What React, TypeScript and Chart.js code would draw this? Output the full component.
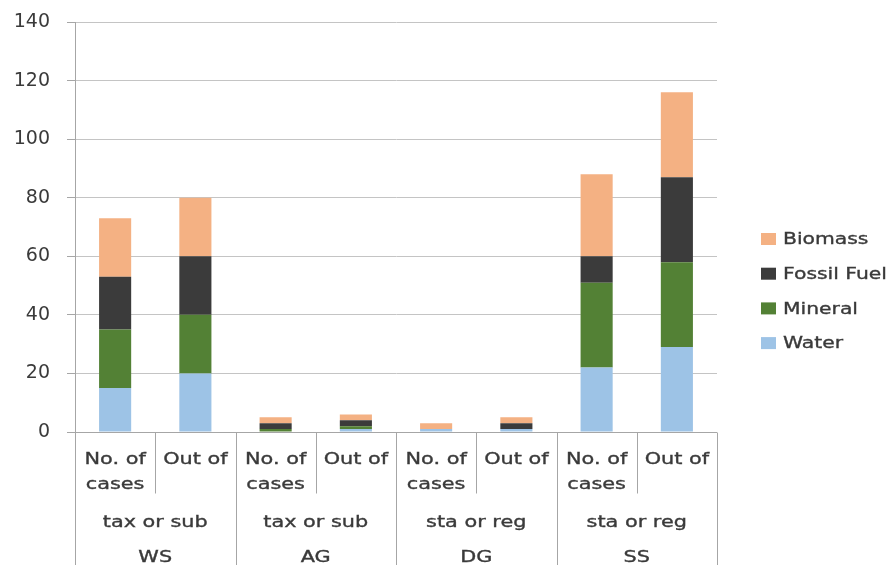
import React, { useEffect, useRef } from "react";
import { Chart, registerables } from "chart.js";

Chart.register(...registerables);

// ---- Data ----
const categories = [
  "WS No. of cases", "WS Out of",
  "AG No. of cases", "AG Out of",
  "DG No. of cases", "DG Out of",
  "SS No. of cases", "SS Out of",
];
const categoryLines: string[][] = [
  ["No. of", "cases"], ["Out of"],
  ["No. of", "cases"], ["Out of"],
  ["No. of", "cases"], ["Out of"],
  ["No. of", "cases"], ["Out of"],
];
const measureLabels = ["tax or sub", "tax or sub", "sta or reg", "sta or reg"];
const groupLabels = ["WS", "AG", "DG", "SS"];

const seriesNames = ["Water", "Mineral", "Fossil Fuel", "Biomass"];
const water = [15, 20, 0, 1, 1, 1, 22, 29];
const mineral = [20, 20, 1, 1, 0, 0, 29, 29];
const fossilFuel = [18, 20, 2, 2, 0, 2, 9, 29];
const biomass = [20, 20, 2, 2, 2, 2, 28, 29];
const seriesColors = ["#9DC3E6", "#538135", "#3B3B3B", "#F4B183"];

const yMin = 0;
const yMax = 140;
const yStep = 20;

const TEXT = "#3a3a3a";
const AXIS = "#a6a6a6";
const FONT = "'DejaVu Sans', sans-serif";

function drawStretched(ctx: CanvasRenderingContext2D, text: string, x: number, y: number, sx: number) {
  ctx.save();
  ctx.translate(x, y);
  ctx.scale(sx, 1);
  ctx.fillText(text, 0, 0);
  ctx.lineWidth = 0.35;
  ctx.strokeStyle = ctx.fillStyle as string;
  ctx.strokeText(text, 0, 0);
  ctx.restore();
}

const multiLevelAxis = {
  id: "multiLevelAxis",
  afterDraw(chart: any) {
    const { ctx, chartArea, scales } = chart;
    const x = scales.x;
    const n = chart.data.labels.length;
    const step = x.getPixelForValue(1) - x.getPixelForValue(0);
    const bottom = Math.round(chartArea.bottom) + 0.5;
    const H = chart.height;

    ctx.save();
    ctx.strokeStyle = AXIS;
    ctx.lineWidth = 1;
    const line = (x1: number, y1: number, x2: number, y2: number) => {
      ctx.beginPath();
      ctx.moveTo(x1, y1);
      ctx.lineTo(x2, y2);
      ctx.stroke();
    };
    line(chartArea.left, bottom, chartArea.right, bottom);
    for (let i = 0; i <= n; i++) {
      const px = i < n ? x.getPixelForValue(i) - step / 2 : x.getPixelForValue(n - 1) + step / 2;
      const bx = Math.round(px) + 0.5;
      const y2 = i % 2 === 0 ? H : bottom + 61;
      line(bx, bottom, bx, y2);
    }

    ctx.fillStyle = TEXT;
    ctx.font = `16px ${FONT}`;
    ctx.textAlign = "center";
    ctx.textBaseline = "alphabetic";
    categoryLines.forEach((lines, i) => {
      const cx = x.getPixelForValue(i);
      lines.forEach((t, j) => drawStretched(ctx, t, cx, bottom + 31 + j * 25.5, 1.3));
    });
    measureLabels.forEach((t, g) => {
      const cx = (x.getPixelForValue(2 * g) + x.getPixelForValue(2 * g + 1)) / 2;
      drawStretched(ctx, t, cx, bottom + 94, 1.3);
    });
    groupLabels.forEach((t, g) => {
      const cx = (x.getPixelForValue(2 * g) + x.getPixelForValue(2 * g + 1)) / 2;
      drawStretched(ctx, t, cx, bottom + 129, 1.3);
    });

    // legend (reverse order, like the stack)
    const ds = chart.data.datasets.slice().reverse();
    const lx = chartArea.right + 44;
    const ly0 = 239;
    const lstep = 34.7;
    ctx.textAlign = "left";
    ctx.textBaseline = "middle";
    ctx.font = `16px ${FONT}`;
    ds.forEach((d: any, k: number) => {
      const cy = ly0 + k * lstep;
      ctx.fillStyle = d.backgroundColor;
      ctx.fillRect(lx, cy - 6, 15, 12);
      ctx.fillStyle = TEXT;
      drawStretched(ctx, d.label, lx + 22, cy + 1, 1.27);
    });
    ctx.restore();
  },
};

export default function App() {
  const ref = useRef<HTMLCanvasElement | null>(null);

  useEffect(() => {
    document.body.style.margin = "0";
    if (!ref.current) return;
    const values = [water, mineral, fossilFuel, biomass];
    const chart = new Chart(ref.current, {
      type: "bar",
      data: {
        labels: categories,
        datasets: seriesNames.map((name, i) => ({
          label: name,
          data: values[i],
          backgroundColor: seriesColors[i],
          borderWidth: 0,
          barPercentage: 0.4,
          categoryPercentage: 1.0,
        })),
      },
      options: {
        responsive: false,
        animation: false,
        layout: { padding: { top: 22, right: 175, bottom: 133, left: 0 } },
        plugins: {
          legend: { display: false },
          tooltip: { enabled: false },
        },
        scales: {
          x: {
            stacked: true,
            display: false,
          },
          y: {
            stacked: true,
            min: yMin,
            max: yMax,
            ticks: {
              stepSize: yStep,
              color: TEXT,
              font: { family: FONT, size: 19 },
              padding: 17,
            },
            grid: {
              color: "#c4c4c4",
              tickColor: AXIS,
              tickLength: 8,
              lineWidth: 1,
            },
            border: { color: AXIS, width: 1 },
            afterFit(scale: any) {
              scale.width = 75;
              scale.paddingTop = 11;
              scale.paddingBottom = 11;
            },
          },
        },
      },
      plugins: [multiLevelAxis],
    });
    return () => chart.destroy();
  }, []);

  return (
    <div style={{ width: 892, height: 565 }}>
      <canvas ref={ref} width={892} height={565} style={{ display: "block" }} />
    </div>
  );
}
